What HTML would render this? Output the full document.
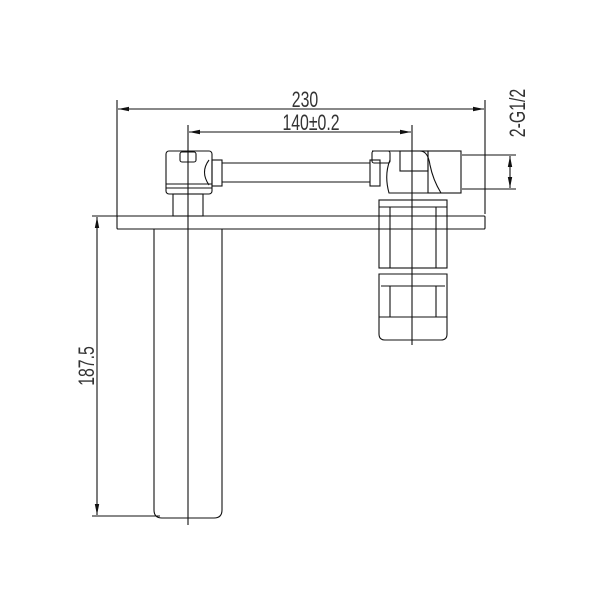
<!DOCTYPE html>
<html><head><style>body{margin:0;background:#fff}svg{display:block}</style></head><body>
<svg width="600" height="600" viewBox="0 0 600 600" xmlns="http://www.w3.org/2000/svg" fill="none" stroke="#111" stroke-width="1.1">
<defs><marker id="a" viewBox="0 0 10 6" refX="10" refY="3" markerWidth="10" markerHeight="6" orient="auto-start-reverse"><path d="M0,1 L10,3 L0,5 z" fill="#111" stroke="none"/></marker></defs>
<line x1="117" y1="100" x2="117" y2="216"/>
<line x1="485" y1="100" x2="485" y2="214"/>
<line x1="118" y1="109" x2="484" y2="109" marker-start="url(#a)" marker-end="url(#a)"/>
<line x1="188" y1="125" x2="188" y2="525"/>
<line x1="412" y1="125" x2="412" y2="345"/>
<line x1="189" y1="132" x2="411" y2="132" marker-start="url(#a)" marker-end="url(#a)"/>
<line x1="462" y1="155" x2="516" y2="155"/>
<line x1="462" y1="189" x2="516" y2="189"/>
<line x1="510" y1="156" x2="510" y2="188" marker-start="url(#a)" marker-end="url(#a)"/>
<line x1="92" y1="216" x2="117" y2="216"/>
<line x1="92" y1="516" x2="160" y2="516"/>
<line x1="97" y1="217" x2="97" y2="515" marker-start="url(#a)" marker-end="url(#a)"/>
<g fill="#333" stroke="none" font-family="Liberation Sans, sans-serif" font-size="22">
<text transform="translate(305,107) scale(0.72,1)" text-anchor="middle">230</text>
<text transform="translate(311,130) scale(0.72,1)" text-anchor="middle">140±0.2</text>
<text transform="translate(525,113) rotate(-90) scale(0.72,1)" text-anchor="middle">2-G1/2</text>
<text transform="translate(94,366) rotate(-90) scale(0.72,1)" text-anchor="middle">187.5</text>
</g>
<rect x="117" y="216" width="368" height="13" rx="1"/>
<path d="M154,229 V510 Q154,518 162,518 H214 Q222,518 222,510 V229"/>
<rect x="173" y="194" width="30" height="22"/>
<rect x="166" y="151" width="46" height="43" rx="3"/>
<rect x="180" y="152" width="16" height="10" rx="2"/>
<line x1="166" y1="184" x2="212" y2="184"/>
<line x1="166" y1="188" x2="212" y2="188"/>
<path d="M209,160 Q200,172 209,185"/>
<rect x="212" y="160" width="10" height="26"/>
<line x1="222" y1="163" x2="370" y2="163"/>
<line x1="222" y1="182" x2="370" y2="182"/>
<rect x="370" y="160" width="10" height="26"/>
<path d="M372,151 H420 Q428,151 430,165 Q433,180 441,193 H389 Q384,175 390,160"/>
<rect x="372" y="151" width="18" height="12" rx="2"/>
<rect x="400" y="151" width="28" height="20"/>
<rect x="428" y="151" width="33" height="42"/>
<rect x="379" y="200" width="68" height="68"/>
<line x1="379" y1="207" x2="447" y2="207"/>
<line x1="390" y1="207" x2="390" y2="268"/>
<line x1="436" y1="207" x2="436" y2="268"/>
<path d="M379,274 H447 V334 Q447,340 441,340 H385 Q379,340 379,334 Z"/>
<line x1="381" y1="286" x2="445" y2="286"/>
<line x1="390" y1="286" x2="390" y2="317"/>
<line x1="436" y1="286" x2="436" y2="317"/>
<line x1="379" y1="317" x2="447" y2="317"/>
</svg>
</body></html>
